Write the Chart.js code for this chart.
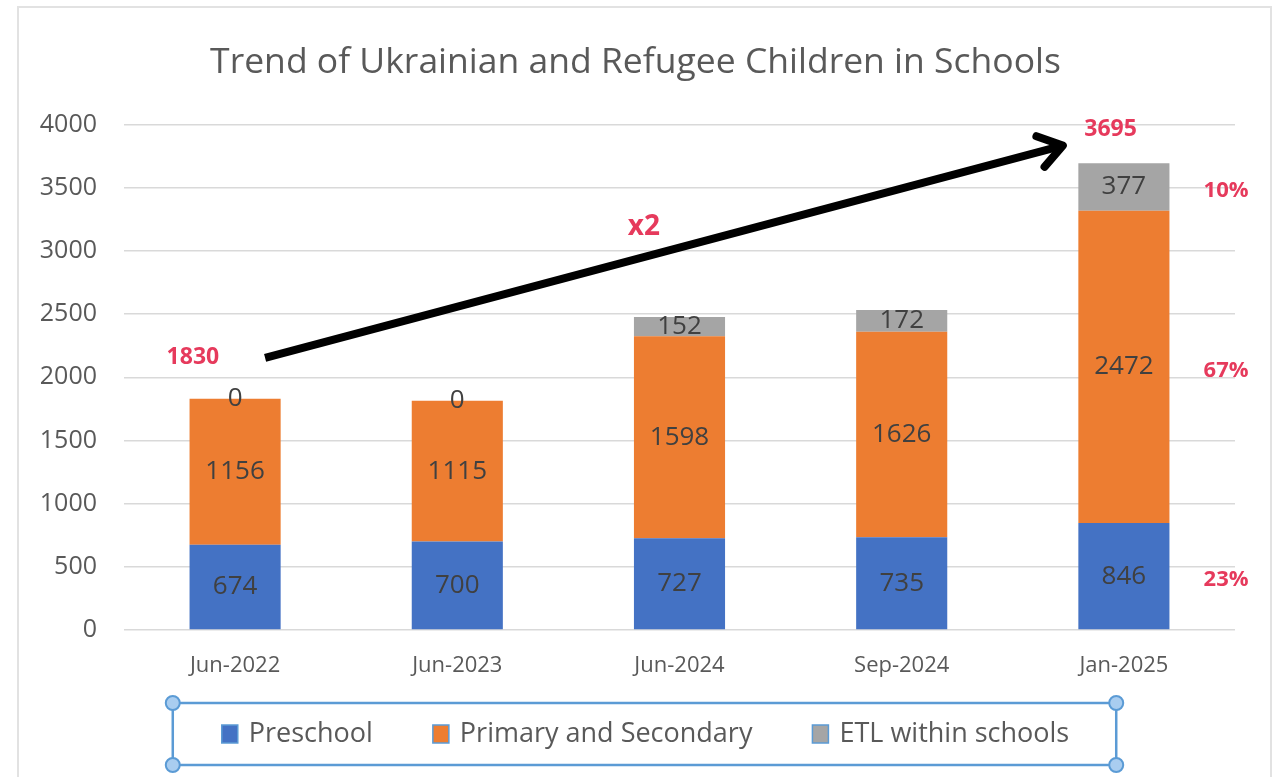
<!DOCTYPE html>
<html>
<head>
<meta charset="utf-8">
<script src="https://cdn.jsdelivr.net/npm/chart.js@4.4.1/dist/chart.umd.min.js"></script>
<style>
    html, body { margin: 0; padding: 0; background: #fff; }
    #wrap { position: relative; width: 1281px; height: 777px; overflow: hidden; }
    #panel { position: absolute; left: 17px; top: 6px; width: 1255px; height: 800px; border: 2px solid #e2e2e2; box-sizing: border-box; }
    canvas { position: absolute; left: 0; top: 0; }
</style>
</head>
<body>
<div id="wrap">
    <div id="panel"></div>
    <canvas id="chart" width="1281" height="777"></canvas>
</div>
<script>
const categories = ["Jun-2022", "Jun-2023", "Jun-2024", "Sep-2024", "Jan-2025"];
const preschool = [674, 700, 727, 735, 846];
const primarySecondary = [1156, 1115, 1598, 1626, 2472];
const etlSchools = [0, 0, 152, 172, 377];
const yTicks = [0, 500, 1000, 1500, 2000, 2500, 3000, 3500, 4000];

// red call-outs: [category index offset, value]
const totalIndex = [0, 4];
const totalAt = [[-0.19, 2160], [-0.06, 3960]];
const growthText = "x2";
const growthAt = [1.84, 3190];
const arrowFrom = [0.135, 2154];
const arrowTo = [3.725, 3834];

const FONT = "'Open Sans', 'DejaVu Sans', sans-serif";
const TEXT = "#595959";
const RED = "#E63A5C";

function totals() {
    return categories.map((_, i) => preschool[i] + primarySecondary[i] + etlSchools[i]);
}

// value labels in the middle of every segment
const segmentLabels = {
    id: "segmentLabels",
    afterDatasetsDraw(chart) {
        const ctx = chart.ctx;
        ctx.save();
        ctx.font = "26px " + FONT;
        ctx.fillStyle = "#404040";
        ctx.textAlign = "center";
        ctx.textBaseline = "middle";
        chart.data.datasets.forEach((ds, i) => {
            chart.getDatasetMeta(i).data.forEach((bar, j) => {
                ctx.fillText(String(ds.data[j]), bar.x, (bar.y + bar.base) / 2);
            });
        });
        ctx.restore();
    },
};

// arrow, totals, x2 and shares of the last column
const callouts = {
    id: "callouts",
    afterDraw(chart) {
        const ctx = chart.ctx;
        const xs = chart.scales.x;
        const ys = chart.scales.y;
        const sum = totals();

        // arrow
        const x0 = xs.getPixelForValue(arrowFrom[0]), y0 = ys.getPixelForValue(arrowFrom[1]);
        const x1 = xs.getPixelForValue(arrowTo[0]), y1 = ys.getPixelForValue(arrowTo[1]);
        const ang = Math.atan2(y1 - y0, x1 - x0);
        ctx.save();
        ctx.strokeStyle = "#000";
        ctx.lineWidth = 8;
        ctx.beginPath();
        ctx.moveTo(x0, y0);
        ctx.lineTo(x1 - 4 * Math.cos(ang), y1 - 4 * Math.sin(ang));
        ctx.stroke();
        ctx.lineCap = "round";
        ctx.lineJoin = "round";
        ctx.beginPath();
        ctx.moveTo(x1 - 28 * Math.cos(ang - 0.6), y1 - 28 * Math.sin(ang - 0.6));
        ctx.lineTo(x1, y1);
        ctx.lineTo(x1 - 28 * Math.cos(ang + 0.6), y1 - 28 * Math.sin(ang + 0.6));
        ctx.stroke();

        ctx.fillStyle = RED;
        ctx.textAlign = "center";
        ctx.textBaseline = "middle";
        ctx.font = "bold 23px " + FONT;
        totalIndex.forEach((idx, k) => {
            ctx.fillText(String(sum[idx]),
                xs.getPixelForValue(idx + totalAt[k][0]),
                ys.getPixelForValue(totalAt[k][1]));
        });

        ctx.font = "bold 28px " + FONT;
        ctx.fillText(growthText, xs.getPixelForValue(growthAt[0]), ys.getPixelForValue(growthAt[1]));

        // shares for the latest column
        const last = categories.length - 1;
        ctx.font = "bold 22px " + FONT;
        chart.data.datasets.forEach((ds, i) => {
            const bar = chart.getDatasetMeta(i).data[last];
            const pct = Math.round(ds.data[last] / sum[last] * 100) + "%";
            ctx.fillText(pct, xs.getPixelForValue(last + 0.46), (bar.y + bar.base) / 2 + 4);
        });
        ctx.restore();
    },
};

// legend drawn inside a selected frame (as in the source screenshot)
const framedLegend = {
    id: "framedLegend",
    afterDraw(chart) {
        const ctx = chart.ctx;
        const cy = 734;
        const box = 16, gapText = 11, gapItem = 60;
        ctx.save();
        ctx.font = "27px " + FONT;
        const items = chart.data.datasets.map(ds => ({
            label: ds.label,
            color: ds.backgroundColor,
            w: box + gapText + ctx.measureText(ds.label).width,
        }));
        const total = items.reduce((a, it) => a + it.w, 0) + gapItem * (items.length - 1);
        let x = chart.width / 2 + 5 - total / 2;
        const left = x - 49, right = x + total + 47;

        // frame with handles
        ctx.strokeStyle = "#5B9BD5";
        ctx.lineWidth = 2.5;
        ctx.strokeRect(left, 703, right - left, 62);
        [[left, 703], [right, 703], [left, 765], [right, 765]].forEach(([hx, hy]) => {
            ctx.beginPath();
            ctx.arc(hx, hy, 7, 0, Math.PI * 2);
            ctx.fillStyle = "#A9CDF0";
            ctx.fill();
            ctx.lineWidth = 2;
            ctx.stroke();
        });

        ctx.textBaseline = "middle";
        ctx.textAlign = "left";
        items.forEach(it => {
            ctx.fillStyle = it.color;
            ctx.fillRect(x, cy - 9, box, 18);
            ctx.strokeStyle = "#5B9BD5";
            ctx.lineWidth = 1.5;
            ctx.strokeRect(x, cy - 9, box, 18);
            ctx.fillStyle = TEXT;
            ctx.fillText(it.label, x + box + gapText, cy);
            x += it.w + gapItem;
        });
        ctx.restore();
    },
};

new Chart(document.getElementById("chart"), {
    type: "bar",
    data: {
        labels: categories,
        datasets: [
            { label: "Preschool", data: preschool, backgroundColor: "#4472C4" },
            { label: "Primary and Secondary", data: primarySecondary, backgroundColor: "#ED7D31" },
            { label: "ETL within schools", data: etlSchools, backgroundColor: "#A5A5A5" },
        ],
    },
    options: {
        responsive: false,
        animation: false,
        layout: { padding: { left: 36, right: 46, top: 0, bottom: 77 } },
        datasets: { bar: { barPercentage: 0.41, categoryPercentage: 1.0 } },
        plugins: {
            legend: { display: false },
            tooltip: { enabled: false },
            title: {
                display: true,
                text: "Trend of Ukrainian and Refugee Children in Schools",
                color: TEXT,
                font: { family: FONT, size: 35.5, weight: "normal" },
                padding: { top: 42, bottom: 40 },
            },
        },
        scales: {
            x: {
                stacked: true,
                grid: { display: false, drawTicks: false },
                border: { display: false },
                ticks: { color: TEXT, font: { family: FONT, size: 22 }, padding: 23 },
                afterFit: (s) => { s.height = 70; },
            },
            y: {
                stacked: true,
                min: 0,
                max: 4000,
                afterBuildTicks: (s) => { s.ticks = yTicks.map(v => ({ value: v })); },
                grid: { color: "#D9D9D9", lineWidth: 1.5, drawTicks: false },
                border: { display: false },
                ticks: {
                    color: TEXT,
                    font: { family: FONT, size: 25 },
                    padding: 27,
                    callback: (v) => String(v),
                },
                afterFit: (s) => { s.width = 88; },
            },
        },
    },
    plugins: [segmentLabels, callouts, framedLegend],
});
</script>
</body>
</html>
